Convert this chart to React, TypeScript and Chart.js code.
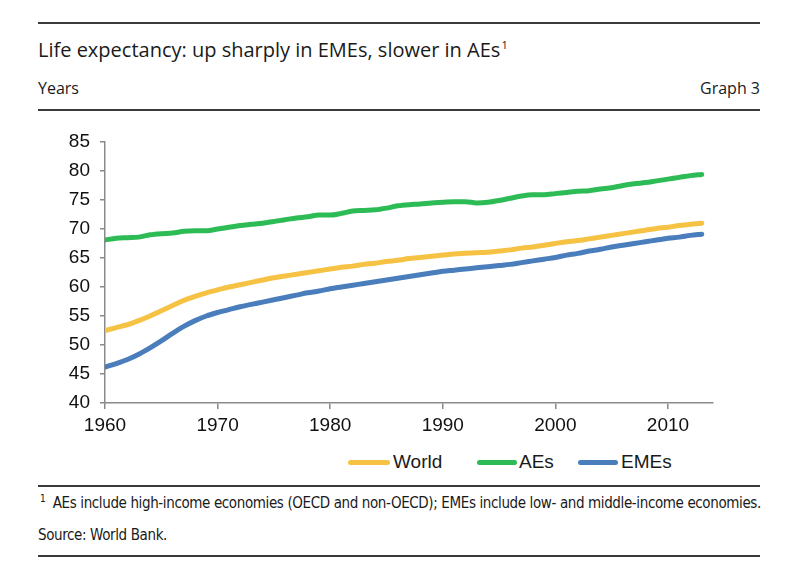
import { useEffect, useRef } from "react";
import { Chart, registerables } from "chart.js";

Chart.register(...registerables);

const years = [
  1960, 1961, 1962, 1963, 1964, 1965, 1966, 1967, 1968, 1969,
  1970, 1971, 1972, 1973, 1974, 1975, 1976, 1977, 1978, 1979,
  1980, 1981, 1982, 1983, 1984, 1985, 1986, 1987, 1988, 1989,
  1990, 1991, 1992, 1993, 1994, 1995, 1996, 1997, 1998, 1999,
  2000, 2001, 2002, 2003, 2004, 2005, 2006, 2007, 2008, 2009,
  2010, 2011, 2012, 2013,
];

const world = [
  52.5, 53.0, 53.5, 54.2, 55.0, 55.9, 56.8, 57.7, 58.4, 59.0,
  59.5, 60.0, 60.4, 60.8, 61.2, 61.6, 61.9, 62.2, 62.5, 62.8,
  63.1, 63.4, 63.6, 63.9, 64.1, 64.4, 64.6, 64.9, 65.1, 65.3,
  65.5, 65.7, 65.8, 65.9, 66.0, 66.2, 66.4, 66.7, 66.9, 67.2,
  67.5, 67.8, 68.0, 68.3, 68.6, 68.9, 69.2, 69.5, 69.8, 70.1,
  70.3, 70.6, 70.8, 71.0,
];

const aes = [
  68.1, 68.4, 68.5, 68.6, 69.0, 69.2, 69.3, 69.6, 69.7, 69.7,
  70.0, 70.3, 70.6, 70.8, 71.0, 71.3, 71.6, 71.9, 72.1, 72.4,
  72.4, 72.7, 73.1, 73.2, 73.3, 73.6, 74.0, 74.2, 74.3, 74.5,
  74.6, 74.7, 74.7, 74.5, 74.6, 74.9, 75.3, 75.7, 75.9, 75.9,
  76.1, 76.3, 76.5, 76.6, 76.9, 77.1, 77.5, 77.8, 78.0, 78.3,
  78.6, 78.9, 79.2, 79.4,
];

const emes = [
  46.2, 46.8, 47.5, 48.4, 49.5, 50.7, 52.0, 53.2, 54.2, 55.0,
  55.6, 56.1, 56.6, 57.0, 57.4, 57.8, 58.2, 58.6, 59.0, 59.3,
  59.7, 60.0, 60.3, 60.6, 60.9, 61.2, 61.5, 61.8, 62.1, 62.4,
  62.7, 62.9, 63.1, 63.3, 63.5, 63.7, 63.9, 64.2, 64.5, 64.8,
  65.1, 65.5, 65.8, 66.2, 66.5, 66.9, 67.2, 67.5, 67.8, 68.1,
  68.4, 68.6, 68.9, 69.1,
];

const seriesNames = ["World", "AEs", "EMEs"];
const seriesColors = ["#F5C244", "#2DBB55", "#4A7DBB"];
const xTickYears = [1960, 1970, 1980, 1990, 2000, 2010];

const AXIS_FONT = '"Liberation Sans", Arial, sans-serif';
const TITLE_FONT = '"Open Sans", "Noto Sans", sans-serif';
const NOTE_FONT = '"DejaVu Sans Condensed", "Open Sans", sans-serif';

const toPoints = (vals: number[]) => vals.map((v, i) => ({ x: years[i], y: v }));

export default function App() {
  const ref = useRef<HTMLCanvasElement>(null);

  useEffect(() => {
    const all = [world, aes, emes];
    const chart = new Chart(ref.current!, {
      type: "line",
      data: {
        datasets: all.map((vals, i) => ({
          label: seriesNames[i],
          data: toPoints(vals),
          borderColor: seriesColors[i],
          backgroundColor: seriesColors[i],
          borderWidth: 5,
          borderCapStyle: "round" as const,
          borderJoinStyle: "round" as const,
          pointRadius: 0,
          cubicInterpolationMode: "monotone" as const,
          fill: false,
        })),
      },
      options: {
        animation: false,
        responsive: false,
        devicePixelRatio: 1,
        layout: { padding: { left: 45, right: 87, top: 22, bottom: 0 } },
        plugins: {
          legend: { display: false },
          tooltip: { enabled: false },
        },
        scales: {
          x: {
            type: "linear",
            min: 1960,
            max: 2014,
            afterFit: (s: any) => {
              s.height = 37;
            },
            afterBuildTicks: (s: any) => {
              s.ticks = xTickYears.map((v) => ({ value: v }));
            },
            ticks: {
              stepSize: 10,
              includeBounds: false,
              padding: 5,
              color: "#111111",
              font: { family: AXIS_FONT, size: 19 },
              callback: (v: any) => String(v),
              maxRotation: 0,
            },
            grid: {
              display: true,
              drawOnChartArea: false,
              drawTicks: true,
              tickLength: 6,
              color: "#8a8a8a",
              lineWidth: 1.5,
            },
            border: { display: true, color: "#8a8a8a", width: 1.5 },
          },
          y: {
            type: "linear",
            min: 40,
            max: 85,
            afterFit: (s: any) => {
              s.width = 60;
            },
            ticks: {
              stepSize: 5,
              padding: 10,
              color: "#111111",
              font: { family: AXIS_FONT, size: 19 },
            },
            grid: {
              display: true,
              drawOnChartArea: false,
              drawTicks: true,
              tickLength: 5,
              color: "#8a8a8a",
              lineWidth: 1.5,
            },
            border: { display: true, color: "#8a8a8a", width: 1.5 },
          },
        },
      },
    });
    return () => chart.destroy();
  }, []);

  const rule = (top: number) => (
    <div
      style={{
        position: "absolute",
        left: 38,
        width: 722,
        top: top - 1,
        height: 2,
        background: "#3a3a3a",
      }}
    />
  );

  const text = (
    content: any,
    top: number,
    size: number,
    family: string,
    extra: any = {}
  ) => (
    <div
      style={{
        position: "absolute",
        top: top - 15,
        height: 30,
        lineHeight: "30px",
        fontSize: size,
        fontFamily: family,
        color: "#1a1a1a",
        whiteSpace: "nowrap",
        ...extra,
      }}
    >
      {content}
    </div>
  );

  const legendItems = [
    { lineLeft: 348, lineWidth: 42, textLeft: 393 },
    { lineLeft: 477, lineWidth: 40, textLeft: 519 },
    { lineLeft: 578, lineWidth: 40, textLeft: 621 },
  ];

  return (
    <div
      style={{
        position: "fixed",
        left: 0,
        top: 0,
        width: 800,
        height: 584,
        background: "#ffffff",
        overflow: "hidden",
      }}
    >
      {rule(23)}
      {text(
        <span>
          Life expectancy: up sharply in EMEs, slower in AEs
          <sup style={{ fontSize: 11, verticalAlign: 0, position: "relative", top: -8, marginLeft: 1 }}>1</sup>
        </span>,
        50,
        20,
        TITLE_FONT,
        { left: 38 }
      )}
      {text("Years", 88, 16, TITLE_FONT, { left: 38 })}
      {text("Graph 3", 88, 16, TITLE_FONT, { right: 40 })}
      {rule(110)}

      <div style={{ position: "absolute", left: 0, top: 120, width: 800, height: 320 }}>
        <canvas ref={ref} width={800} height={320} style={{ width: 800, height: 320, display: "block" }} />
      </div>

      {legendItems.map((it, i) => (
        <div key={seriesNames[i]}>
          <div
            style={{
              position: "absolute",
              left: it.lineLeft,
              top: 460,
              width: it.lineWidth,
              height: 5,
              borderRadius: 3,
              background: seriesColors[i],
            }}
          />
          {text(seriesNames[i], 462, 19, AXIS_FONT, { left: it.textLeft })}
        </div>
      ))}

      {rule(486)}
      {text(
        <span>
          <sup style={{ fontSize: 10, verticalAlign: 0, position: "relative", top: -6 }}>1</sup>
          <span style={{ marginLeft: 7, letterSpacing: -0.38 }}>
            AEs include high-income economies (OECD and non-OECD); EMEs include low- and middle-income economies.
          </span>
        </span>,
        503,
        15,
        NOTE_FONT,
        { left: 40 }
      )}
      {text("Source: World Bank.", 535, 15, NOTE_FONT, { left: 38, letterSpacing: -0.38 })}
      {rule(556)}
    </div>
  );
}
